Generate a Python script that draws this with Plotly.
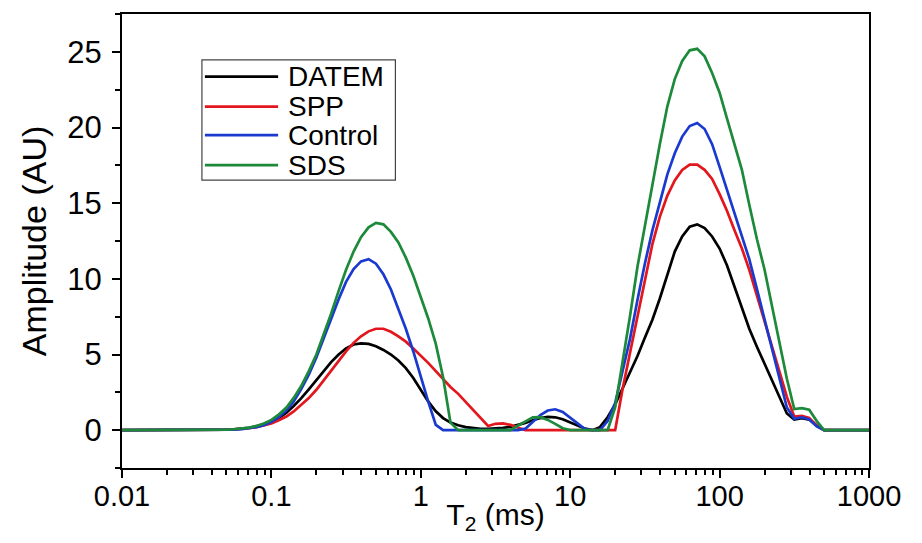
import plotly.graph_objects as go

# T2 relaxation time (ms)
t2_ms = [0.01, 0.0316, 0.0355, 0.0398, 0.0447, 0.0501, 0.0562, 0.0631, 0.0708, 0.0794, 0.0891,
         0.1, 0.112, 0.126, 0.141, 0.158, 0.178, 0.2, 0.224, 0.251, 0.282,
         0.316, 0.355, 0.398, 0.447, 0.501, 0.562, 0.631, 0.708, 0.794, 0.891,
         1.0, 1.12, 1.26, 1.41, 1.58, 1.78, 2.0, 2.24, 2.51, 2.82,
         3.16, 3.55, 3.98, 4.47, 5.01, 5.62, 6.31, 7.08, 7.94, 8.91,
         10, 11.2, 12.6, 14.1, 15.8, 17.8, 20.0, 22.4, 25.1, 28.2,
         31.6, 35.5, 39.8, 44.7, 50.1, 56.2, 63.1, 70.8, 79.4, 89.1,
         100, 112, 126, 141, 158, 178, 200, 224, 251, 282,
         316, 355, 398, 447, 501, 1000]

datem = [0,
         0, 0.005, 0.01, 0.02, 0.04, 0.06, 0.1, 0.16, 0.25, 0.38,
         0.55, 0.8, 1.15, 1.6, 2.1, 2.7, 3.3, 3.9, 4.5, 5.0,
         5.4, 5.66, 5.74, 5.7, 5.55, 5.3, 5.0, 4.6, 4.1, 3.45,
         2.7, 1.9, 1.25, 0.8, 0.5, 0.32, 0.2, 0.13, 0.09, 0.08,
         0.1, 0.15, 0.22, 0.33, 0.48, 0.65, 0.8, 0.88, 0.85, 0.72,
         0.52, 0.3, 0.1, 0, 0.2, 0.85, 1.7, 2.75, 3.8, 4.9,
         6.1, 7.3, 8.7, 10.3, 11.8, 12.8, 13.45, 13.6, 13.35, 12.8,
         12.0, 10.9, 9.5, 8.1, 6.7, 5.5, 4.4, 3.3, 2.2, 1.1,
         0.7, 0.8, 0.7, 0.3, 0,
         0]

spp = [0,
       0, 0.01, 0.01, 0.02, 0.03, 0.05, 0.08, 0.13, 0.2, 0.31,
       0.45, 0.65, 0.9, 1.24, 1.64, 2.12, 2.67, 3.3, 3.93, 4.58,
       5.2, 5.77, 6.2, 6.53, 6.7, 6.7, 6.5, 6.2, 5.85, 5.4,
       4.95, 4.45, 3.9, 3.35, 2.85, 2.4, 1.85, 1.35, 0.8, 0.28,
       0.42, 0.45, 0.35, 0.15, 0, 0, 0, 0, 0, 0,
       0, 0, 0, 0, 0, 0, 0, 2.7, 5.1, 7.4,
       9.9, 12.3, 14.1, 15.5, 16.5, 17.2, 17.55, 17.55, 17.2, 16.6,
       15.6, 14.5, 13.2, 12.0, 10.6, 8.9, 7.3, 5.6, 3.9, 2.2,
       0.9, 0.95, 0.8, 0.3, 0,
       0]

control = [0,
           0, 0, 0, 0.01, 0.02, 0.03, 0.06, 0.11, 0.2, 0.33,
           0.55, 0.86, 1.31, 1.9, 2.7, 3.67, 4.8, 6.07, 7.4, 8.65,
           9.8, 10.65, 11.15, 11.3, 11.0, 10.3, 9.3, 8.0, 6.7, 5.2,
           3.5, 1.9, 0.35, 0, 0, 0, 0, 0, 0, 0,
           0, 0, 0, 0, 0.1, 0.55, 1.0, 1.3, 1.38, 1.2,
           0.85, 0.45, 0.05, 0, 0, 0.6, 1.8, 3.8, 6.0, 8.6,
           11.0, 13.2, 15.0, 16.9, 18.3, 19.4, 20.1, 20.3, 19.9, 18.9,
           17.4, 15.9, 14.4, 12.9, 11.3, 9.3, 7.3, 5.4, 3.4, 1.5,
           0.75, 0.85, 0.7, 0.25, 0,
           0]

sds = [0,
       0, 0, 0.01, 0.02, 0.03, 0.06, 0.1, 0.17, 0.28, 0.44,
       0.68, 1.03, 1.5, 2.13, 2.9, 3.9, 5.0, 6.3, 7.7, 9.2,
       10.6, 11.8, 12.75, 13.4, 13.7, 13.6, 13.1, 12.4, 11.4, 10.2,
       8.85, 7.4, 5.7, 3.5, 0.5, 0, 0, 0, 0, 0,
       0, 0, 0, 0.3, 0.6, 0.85, 0.86, 0.68, 0.42, 0.13,
       0, 0, 0, 0, 0, 0, 1.5, 4.4, 7.5, 10.8,
       13.5, 16.4, 18.9, 21.4, 23.2, 24.4, 25.1, 25.2, 24.7, 23.6,
       22.3, 20.6, 18.8, 17.2, 14.9, 12.6, 10.6, 8.2, 5.8, 3.4,
       1.4, 1.45, 1.35, 0.6, 0,
       0]

series_names = ["DATEM", "SPP", "Control", "SDS"]
series_values = [datem, spp, control, sds]
series_colors = ["#000000", "#e3161e", "#1a3acf", "#1c8a3a"]

x_tickvals = [0.01, 0.1, 1, 10, 100, 1000]
x_ticktext = ["0.01", "0.1", "1", "10", "100", "1000"]
x_minor = [m * d for d in [0.01, 0.1, 1, 10, 100] for m in range(2, 10)]
y_tickvals = [0, 5, 10, 15, 20, 25]

FONT = "Liberation Sans, Arial, sans-serif"

fig = go.Figure()
for name, vals, col in zip(series_names, series_values, series_colors):
    fig.add_trace(go.Scatter(x=t2_ms, y=vals, mode="lines", name=name,
                             line=dict(color=col, width=2.7), showlegend=False))

# manual legend (long line samples, boxed)
leg_x0, leg_x1 = 0.107, 0.366
leg_y0, leg_y1 = 0.634, 0.899
fig.add_shape(type="rect", xref="paper", yref="paper", x0=leg_x0, x1=leg_x1,
              y0=leg_y0, y1=leg_y1, line=dict(color="#444444", width=1.2),
              fillcolor="rgba(0,0,0,0)")
row_y = [0.862, 0.796, 0.733, 0.667]
for name, col, yy in zip(series_names, series_colors, row_y):
    fig.add_shape(type="line", xref="paper", yref="paper", x0=0.111, x1=0.209,
                  y0=yy, y1=yy, line=dict(color=col, width=2.7))
    fig.add_annotation(xref="paper", yref="paper", x=0.219, y=yy, text=name,
                       showarrow=False, xanchor="left", yanchor="middle",
                       font=dict(family=FONT, size=28, color="#000000"))

axis_common = dict(showline=True, linecolor="#000000", linewidth=2.2, mirror=True,
                   ticks="outside", ticklen=8, tickwidth=2, tickcolor="#000000",
                   showgrid=False, zeroline=False)

fig.update_xaxes(type="log", range=[-2, 3], tickvals=x_tickvals, ticktext=x_ticktext,
                 tickfont=dict(family=FONT, size=29, color="#000000"),
                 ticklabelstandoff=-7,
                 minor=dict(tickvals=x_minor, ticks="outside", ticklen=5, tickwidth=1.6,
                            tickcolor="#000000", showgrid=False),
                 title=dict(text="T<sub>2</sub> (ms)", standoff=4,
                            font=dict(family=FONT, size=30, color="#000000")),
                 **axis_common)
fig.update_yaxes(range=[-2.5, 27.5], tickvals=y_tickvals,
                 tickfont=dict(family=FONT, size=31, color="#000000"),
                 ticklabelstandoff=4,
                 minor=dict(dtick=2.5, tick0=0, ticks="outside", ticklen=5, tickwidth=1.6,
                            tickcolor="#000000", showgrid=False),
                 title=dict(text="Amplitude (AU)", standoff=10,
                            font=dict(family=FONT, size=34, color="#000000")),
                 **axis_common)

# page has an 8px body margin: figure is sized/offset so the plot area
# lands on the reference position inside the 922x543 window
fig.update_layout(width=906, height=527, autosize=False,
                  margin=dict(l=114, r=45, t=6, b=67, autoexpand=False),
                  paper_bgcolor="#ffffff", plot_bgcolor="#ffffff",
                  font=dict(family=FONT, color="#000000"))

fig.write_html("out.html")
